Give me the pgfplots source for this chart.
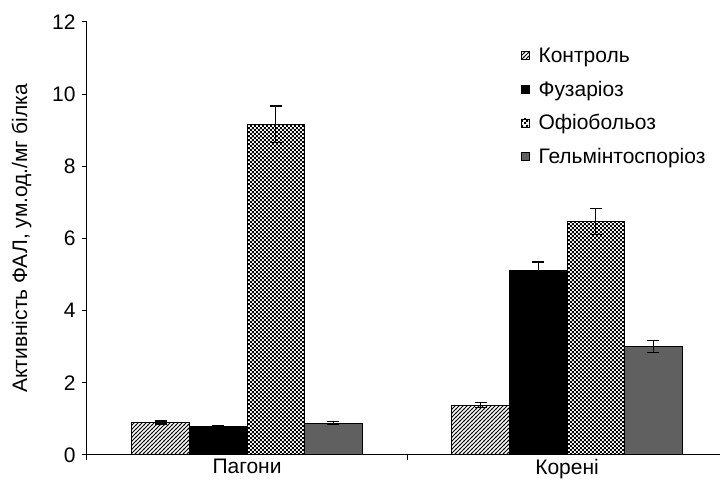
\documentclass[border=0pt]{standalone}
\usepackage{pgfplots}
\pgfplotsset{compat=1.18}
\usetikzlibrary{patterns}
\usepackage{fontspec}
\setmainfont{Liberation Sans}
\definecolor{gelm}{HTML}{606060}
\pgfdeclarepatternformonly{finecheck}{\pgfpointorigin}{\pgfqpoint{4.4pt}{4.4pt}}{\pgfqpoint{4.4pt}{4.4pt}}{%
  \pgfpathrectangle{\pgfpointorigin}{\pgfqpoint{2.2pt}{2.2pt}}%
  \pgfpathrectangle{\pgfqpoint{2.2pt}{2.2pt}}{\pgfqpoint{2.2pt}{2.2pt}}%
  \pgfusepath{fill}}
\pgfdeclarepatternformonly{hatch}{\pgfqpoint{-1pt}{-1pt}}{\pgfqpoint{5pt}{5pt}}{\pgfqpoint{4pt}{4pt}}{%
  \pgfsetlinewidth{1pt}%
  \pgfpathmoveto{\pgfqpoint{-0.5pt}{-0.5pt}}%
  \pgfpathlineto{\pgfqpoint{4.5pt}{4.5pt}}%
  \pgfusepath{stroke}}
\begin{document}
\begin{tikzpicture}[x=1pt,y=1pt]
\useasboundingbox (-87,-34) rectangle (633,455);
\begin{axis}[
  at={(0,0)}, anchor=south west,
  scale only axis, width=633pt, height=433pt,
  font=\fontsize{21}{25}\selectfont,
  /pgf/number format/assume math mode=true,
  ybar=0pt, bar width=0.18,
  xmin=-0.5, xmax=1.478,
  ymin=0, ymax=12,
  ytick={0,2,...,12},
  xtick={-0.5,0.5},
  xticklabels={},
  extra x ticks={0,1},
  extra x tick labels={Пагони,Корені},
  extra x tick style={major tick length=0pt},
  axis x line=bottom, axis y line=left,
  axis line style={-, line width=1pt},
  tick style={black, line width=1pt},
  tick align=outside, major tick length=5pt,
  yticklabel style={xshift=-3pt},
  xticklabel style={yshift=-1pt},
  ylabel={Активність ФАЛ, ум.од./мг білка},
  ylabel style={at={(-52pt,0.5)}},
  legend style={at={(0.68,0.95)}, anchor=north west, draw=none, fill=none,
    row sep=13pt, font=\fontsize{21}{25}\selectfont},
  legend cell align=left,
  legend image code/.code={\draw[#1, line width=0.8pt] (0pt,-4pt) rectangle (8pt,4pt); \path (15pt,0pt);},
  every axis plot/.append style={draw=black, line width=1pt},
  error bars/y dir=both, error bars/y explicit,
  error bars/error bar style={black, line width=1.2pt},
  error bars/error mark options={black, line width=1.2pt, mark size=6pt, rotate=90},
]
\addplot[pattern=hatch, error bars/y dir=both, error bars/y explicit] coordinates {(0,0.90) +- (0,0.04) (1,1.38) +- (0,0.07)};
\addplot[fill=black, error bars/y dir=both, error bars/y explicit] coordinates {(0,0.78) +- (0,0.03) (1,5.10) +- (0,0.25)};
\addplot[pattern=finecheck, error bars/y dir=both, error bars/y explicit] coordinates {(0,9.17) +- (0,0.50) (1,6.47) +- (0,0.36)};
\addplot[fill=gelm, error bars/y dir=both, error bars/y explicit] coordinates {(0,0.88) +- (0,0.04) (1,3.00) +- (0,0.17)};
\legend{Контроль,Фузаріоз,Офіобольоз,Гельмінтоспоріоз}
\end{axis}
\end{tikzpicture}
\end{document}
